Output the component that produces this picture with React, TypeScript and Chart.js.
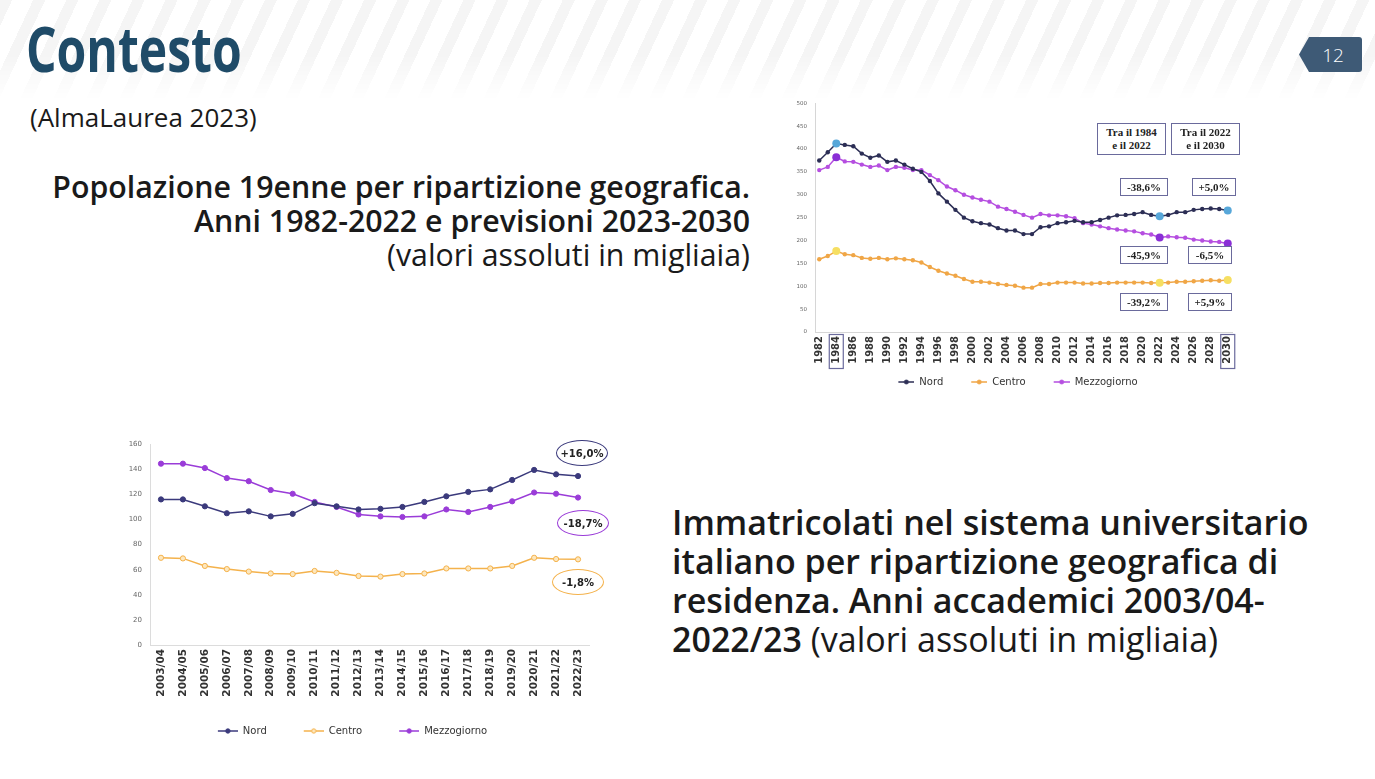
import React, { useEffect, useRef } from "react";
import { Chart, registerables } from "chart.js";

Chart.register(...registerables);

// Popolazione 19enne (migliaia), 1982-2030
const popYears = [
  "1982", "1983", "1984", "1985", "1986", "1987", "1988", "1989", "1990", "1991",
  "1992", "1993", "1994", "1995", "1996", "1997", "1998", "1999", "2000", "2001",
  "2002", "2003", "2004", "2005", "2006", "2007", "2008", "2009", "2010", "2011",
  "2012", "2013", "2014", "2015", "2016", "2017", "2018", "2019", "2020", "2021",
  "2022", "2023", "2024", "2025", "2026", "2027", "2028", "2029", "2030",
];
const popNord = [
  375, 393, 412, 409, 406, 390, 381, 386, 372, 375,
  366, 357, 350, 330, 303, 285, 267, 250, 242, 238,
  235, 227, 222, 222, 214, 214, 229, 231, 238, 240,
  243, 240, 240, 245, 250, 255, 256, 258, 262, 256,
  253, 256, 262, 262, 267, 269, 270, 269, 265.7,
];
const popCentro = [
  159, 166, 177, 170, 168, 162, 160, 162, 159, 161,
  159, 157, 152, 142, 134, 128, 123, 116, 110, 110,
  108, 105, 103, 101, 97, 97, 105, 105, 108, 108,
  108, 106, 106, 107, 107, 108, 108, 108, 108, 107,
  107.6, 108, 110, 110, 111, 112, 113, 112, 113.9,
];
const popMezzogiorno = [
  354, 361, 382, 373, 372, 366, 361, 364, 354, 361,
  359, 354, 354, 343, 332, 318, 310, 300, 294, 289,
  285, 274, 269, 263, 256, 250, 258, 255, 255, 253,
  249, 238, 235, 231, 227, 224, 222, 220, 216, 213,
  206.7, 209, 207, 206, 202, 200, 198, 197, 193.3,
];
const popMarkedYears = ["1984", "2022", "2030"];
const popPeriods = [
  ["Tra il 1984", "e il 2022"],
  ["Tra il 2022", "e il 2030"],
];
const popYMax = 500;
const popYStep = 50;

// Immatricolati (migliaia), a.a. 2003/04-2022/23
const immYears = [
  "2003/04", "2004/05", "2005/06", "2006/07", "2007/08", "2008/09", "2009/10",
  "2010/11", "2011/12", "2012/13", "2013/14", "2014/15", "2015/16", "2016/17",
  "2017/18", "2018/19", "2019/20", "2020/21", "2021/22", "2022/23",
];
const immNord = [
  116, 116, 110.5, 105, 106.5, 102.5, 104.5, 113, 110.5, 108,
  108.5, 110, 114, 118.5, 122, 124, 131.5, 139.5, 136, 134.6,
];
const immCentro = [
  69.5, 69, 63, 60.5, 58.5, 57, 56.5, 59, 57.5, 55,
  54.5, 56.5, 57, 61, 61, 61, 63, 69.5, 68.5, 68.25,
];
const immMezzogiorno = [
  144.5, 144.5, 141, 133, 130.5, 123.5, 120.5, 114, 110, 104,
  102.5, 102, 102.5, 108, 106, 110, 114.5, 121.5, 120.5, 117.5,
];
const immYMax = 160;
const immYStep = 20;

const seriesNames = ["Nord", "Centro", "Mezzogiorno"];

const popColors = { nord: "#2c2e55", centro: "#f0a646", sud: "#b54ee0" };
const popMarkColors = { nord: "#57a7d9", centro: "#f6df62", sud: "#8a2fd6" };
const immColors = { nord: "#3b3a7c", centro: "#f4b24c", sud: "#9a3cd8" };

function pctChange(from: number, to: number) {
  const v = (to / from - 1) * 100;
  return (v >= 0 ? "+" : "-") + Math.abs(v).toFixed(1).replace(".", ",") + "%";
}

// legend marker: transparent lead-in (item spacing) + line with a dot
function legendIcon(color: string, fill: string, gap: number, w: number, r: number) {
  const c = document.createElement("canvas");
  c.width = gap + w;
  c.height = 10;
  const g = c.getContext("2d")!;
  g.strokeStyle = color;
  g.lineWidth = 1.5;
  g.beginPath();
  g.moveTo(gap, 5);
  g.lineTo(gap + w, 5);
  g.stroke();
  g.fillStyle = fill;
  g.beginPath();
  g.arc(gap + w / 2, 5, r, 0, Math.PI * 2);
  g.fill();
  g.lineWidth = 1;
  g.stroke();
  return c;
}

const markIdx = popMarkedYears.map((y) => popYears.indexOf(y));
const isMarked = (i: number) => markIdx.includes(i);

function popDataset(label: string, data: number[], color: string, mark: string) {
  return {
    label,
    data,
    borderColor: color,
    backgroundColor: color,
    borderWidth: 1.5,
    tension: 0,
    pointRadius: (c: any) => (isMarked(c.dataIndex) ? 4 : 2.2),
    pointBackgroundColor: (c: any) => (isMarked(c.dataIndex) ? mark : color),
    pointBorderColor: (c: any) => (isMarked(c.dataIndex) ? mark : color),
    pointBorderWidth: 0,
  };
}

function immDataset(label: string, data: number[], color: string, fill: string) {
  return {
    label,
    data,
    borderColor: color,
    backgroundColor: fill,
    borderWidth: 1.5,
    tension: 0,
    pointRadius: 2.6,
    pointBackgroundColor: fill,
    pointBorderColor: color,
    pointBorderWidth: 1,
  };
}

const boxedTicks = {
  id: "boxedTicks",
  afterDraw(chart: any) {
    const x = chart.scales.x;
    const ctx = chart.ctx;
    ctx.save();
    ctx.strokeStyle = "#6a6a9c";
    ctx.lineWidth = 1.2;
    for (const i of [markIdx[0], markIdx[markIdx.length - 1]]) {
      const px = x.getPixelForValue(i);
      ctx.strokeRect(px - 7, x.top + 2.5, 14, 34);
    }
    ctx.restore();
  },
};

// moves the legend row sideways after layout
const legendShift = {
  id: "legendShift",
  afterLayout(chart: any, _args: any, opts: any) {
    const dx = (opts && opts.dx) || 0;
    if (chart.legend && dx) {
      chart.legend.left += dx;
      chart.legend.right += dx;
    }
  },
};

function legendOptions(icons: HTMLCanvasElement[], size: number, pad: number, w: number) {
  return {
    position: "bottom" as const,
    labels: {
      usePointStyle: true,
      pointStyleWidth: w,
      padding: pad,
      color: "#333",
      font: { family: "'DejaVu Sans', sans-serif", size },
      generateLabels: (chart: any) =>
        chart.data.datasets.map((ds: any, i: number) => ({
          text: ds.label,
          pointStyle: icons[i],
          fillStyle: "transparent",
          strokeStyle: "transparent",
          lineWidth: 0,
          hidden: false,
          datasetIndex: i,
          fontColor: "#333",
        })),
    },
  };
}

const boxStyle: React.CSSProperties = {
  position: "absolute",
  border: "1.5px solid #6a6a9c",
  background: "#fff",
  boxSizing: "border-box",
  display: "flex",
  alignItems: "center",
  justifyContent: "center",
  textAlign: "center",
  fontFamily: "'Liberation Serif', serif",
  fontWeight: 700,
  fontSize: 11,
  lineHeight: "13px",
  color: "#222",
};

const ovalStyle: React.CSSProperties = {
  position: "absolute",
  borderRadius: "50%",
  boxSizing: "border-box",
  display: "flex",
  alignItems: "center",
  justifyContent: "center",
  fontFamily: "'DejaVu Sans', sans-serif",
  fontWeight: 700,
  fontSize: 10,
  color: "#222",
};

export default function App() {
  const popRef = useRef<HTMLCanvasElement>(null);
  const immRef = useRef<HTMLCanvasElement>(null);

  useEffect(() => {
    const popIcons = [
      legendIcon(popColors.nord, popColors.nord, 24, 16, 2),
      legendIcon(popColors.centro, popColors.centro, 24, 16, 2),
      legendIcon(popColors.sud, popColors.sud, 24, 16, 2),
    ];
    const immIcons = [
      legendIcon(immColors.nord, immColors.nord, 32, 20, 2.2),
      legendIcon(immColors.centro, "#fde7bd", 32, 20, 2.2),
      legendIcon(immColors.sud, immColors.sud, 32, 20, 2.2),
    ];

    const pop = new Chart(popRef.current!, {
      type: "line",
      data: {
        labels: popYears,
        datasets: [
          popDataset(seriesNames[0], popNord, popColors.nord, popMarkColors.nord),
          popDataset(seriesNames[1], popCentro, popColors.centro, popMarkColors.centro),
          popDataset(seriesNames[2], popMezzogiorno, popColors.sud, popMarkColors.sud),
        ] as any,
      },
      options: {
        responsive: false,
        animation: false,
        devicePixelRatio: 1,
        layout: { padding: { top: 4, right: 18, bottom: 2, left: 0 } },
        plugins: {
          legend: legendOptions(popIcons, 10, 4, 40) as any,
          tooltip: { enabled: false },
        },
        scales: {
          x: {
            offset: true,
            grid: { display: false, drawTicks: false },
            border: { color: "#d6d6d6" },
            afterFit: (s: any) => {
              s.height = 41;
            },
            ticks: {
              autoSkip: false,
              minRotation: 90,
              maxRotation: 90,
              padding: 4,
              color: "#333",
              font: { family: "'DejaVu Sans', sans-serif", size: 10, weight: "bold" },
              callback: (_v: any, i: number) => (i % 2 === 0 ? popYears[i] : ""),
            },
          },
          y: {
            min: 0,
            max: popYMax,
            grid: { display: false, drawTicks: false },
            border: { color: "#d6d6d6" },
            afterFit: (s: any) => {
              s.width = 35;
            },
            ticks: {
              stepSize: popYStep,
              padding: 8,
              color: "#666",
              font: { family: "'DejaVu Sans', sans-serif", size: 5.5 },
            },
          },
        },
      },
      plugins: [boxedTicks],
    });

    const imm = new Chart(immRef.current!, {
      type: "line",
      data: {
        labels: immYears,
        datasets: [
          immDataset(seriesNames[0], immNord, immColors.nord, immColors.nord),
          immDataset(seriesNames[1], immCentro, immColors.centro, "#fde7bd"),
          immDataset(seriesNames[2], immMezzogiorno, immColors.sud, immColors.sud),
        ] as any,
      },
      options: {
        responsive: false,
        animation: false,
        devicePixelRatio: 1,
        layout: { padding: { top: 8, right: 31, bottom: 4, left: 0 } },
        plugins: {
          legend: legendOptions(immIcons, 10, 5, 52) as any,
          tooltip: { enabled: false },
          legendShift: { dx: -8 },
        } as any,
        scales: {
          x: {
            offset: true,
            grid: { display: false, drawTicks: false },
            border: { color: "#dcdcdc" },
            afterFit: (s: any) => {
              s.height = 76;
            },
            ticks: {
              autoSkip: false,
              minRotation: 90,
              maxRotation: 90,
              padding: 4,
              color: "#333",
              font: { family: "'DejaVu Sans', sans-serif", size: 10.5, weight: "bold" },
            },
          },
          y: {
            min: 0,
            max: immYMax,
            grid: { display: false, drawTicks: false },
            border: { color: "#dcdcdc" },
            afterFit: (s: any) => {
              s.width = 50;
            },
            ticks: {
              stepSize: immYStep,
              padding: 8,
              color: "#666",
              font: { family: "'DejaVu Sans', sans-serif", size: 7 },
            },
          },
        },
      },
      plugins: [legendShift],
    });

    return () => {
      pop.destroy();
      imm.destroy();
    };
  }, []);

  const last = popYears.length - 1;
  const i84 = markIdx[0];
  const i22 = markIdx[1];
  const popBoxes = [
    [pctChange(popNord[i84], popNord[i22]), pctChange(popNord[i22], popNord[last])],
    [pctChange(popMezzogiorno[i84], popMezzogiorno[i22]), pctChange(popMezzogiorno[i22], popMezzogiorno[last])],
    [pctChange(popCentro[i84], popCentro[i22]), pctChange(popCentro[i22], popCentro[last])],
  ];
  const popBoxTops = [178, 246, 293];
  const n = immYears.length - 1;
  const immOvals = [
    { text: pctChange(immNord[0], immNord[n]), color: immColors.nord, cx: 582, cy: 453 },
    { text: pctChange(immMezzogiorno[0], immMezzogiorno[n]), color: immColors.sud, cx: 583, cy: 523 },
    { text: pctChange(immCentro[0], immCentro[n]), color: immColors.centro, cx: 578, cy: 582 },
  ];

  return (
    <div
      style={{
        position: "fixed",
        left: 0,
        top: 0,
        width: 1375,
        height: 779,
        background: "#fff",
        overflow: "hidden",
        fontFamily: "'Open Sans', sans-serif",
        color: "#1a1a1a",
      }}
    >
      <div
        style={{
          position: "absolute",
          left: 0,
          top: 0,
          width: 1375,
          height: 100,
          background:
            "repeating-linear-gradient(115deg, rgba(0,0,0,0.04) 0px, rgba(0,0,0,0.04) 11px, rgba(0,0,0,0) 11px, rgba(0,0,0,0) 30px)",
          WebkitMaskImage: "linear-gradient(to bottom, #000 55%, transparent 100%)",
          maskImage: "linear-gradient(to bottom, #000 55%, transparent 100%)",
        }}
      />
      <div
        style={{
          position: "absolute",
          left: 26,
          top: 17,
          fontSize: 62,
          lineHeight: "62px",
          fontWeight: 700,
          color: "#1f4b68",
          transform: "scaleX(0.775)",
          transformOrigin: "left top",
          whiteSpace: "nowrap",
        }}
      >
        Contesto
      </div>
      <svg style={{ position: "absolute", left: 1298, top: 36 }} width={66} height={38}>
        <path d="M11 1 H61 Q64 1 64 4 V33 Q64 36 61 36 H11 L1 18.5 Z" fill="#3e5a76" />
        <text
          x={35}
          y={25.5}
          textAnchor="middle"
          fill="#fff"
          fontSize={19}
          fontFamily="'Open Sans', sans-serif"
          fontWeight={300}
        >
          12
        </text>
      </svg>

      <div style={{ position: "absolute", left: 30, top: 102, fontSize: 26, lineHeight: "30px" }}>
        (AlmaLaurea 2023)
      </div>

      <div
        style={{
          position: "absolute",
          right: 625,
          top: 170,
          fontSize: 30.3,
          lineHeight: "34px",
          textAlign: "right",
          whiteSpace: "nowrap",
        }}
      >
        <div style={{ fontWeight: 600 }}>Popolazione 19enne per ripartizione geografica.</div>
        <div style={{ fontWeight: 600 }}>Anni 1982-2022 e previsioni 2023-2030</div>
        <div style={{ fontWeight: 400 }}>(valori assoluti in migliaia)</div>
      </div>

      <div
        style={{
          position: "absolute",
          left: 672,
          top: 503,
          fontSize: 34,
          lineHeight: "39px",
          fontWeight: 600,
          whiteSpace: "nowrap",
        }}
      >
        <div>Immatricolati nel sistema universitario</div>
        <div>italiano per ripartizione geografica di</div>
        <div>residenza. Anni accademici 2003/04-</div>
        <div>
          2022/23 <span style={{ fontWeight: 400 }}>(valori assoluti in migliaia)</span>
        </div>
      </div>

      <canvas
        ref={popRef}
        width={470}
        height={307}
        style={{ position: "absolute", left: 780, top: 92, width: 470, height: 307 }}
      />
      <canvas
        ref={immRef}
        width={520}
        height={318}
        style={{ position: "absolute", left: 100, top: 432, width: 520, height: 318 }}
      />

      {popPeriods.map((lines, k) => (
        <div key={k} style={{ ...boxStyle, left: 1097 + k * 74, top: 123, width: 69, height: 32 }}>
          {lines[0]}
          <br />
          {lines[1]}
        </div>
      ))}
      {popBoxes.map((pair, r) =>
        pair.map((txt, k) => (
          <div
            key={r + "-" + k}
            style={{
              ...boxStyle,
              left: k === 0 ? 1120 : r === 0 ? 1192 : 1188,
              top: popBoxTops[r],
              width: k === 0 ? 48 : 44,
              height: 18,
            }}
          >
            {txt}
          </div>
        ))
      )}

      {immOvals.map((o, k) => (
        <div
          key={k}
          style={{
            ...ovalStyle,
            left: o.cx - 26,
            top: o.cy - 13,
            width: 52,
            height: 26,
            border: `1.5px solid ${o.color}`,
          }}
        >
          {o.text}
        </div>
      ))}
    </div>
  );
}
